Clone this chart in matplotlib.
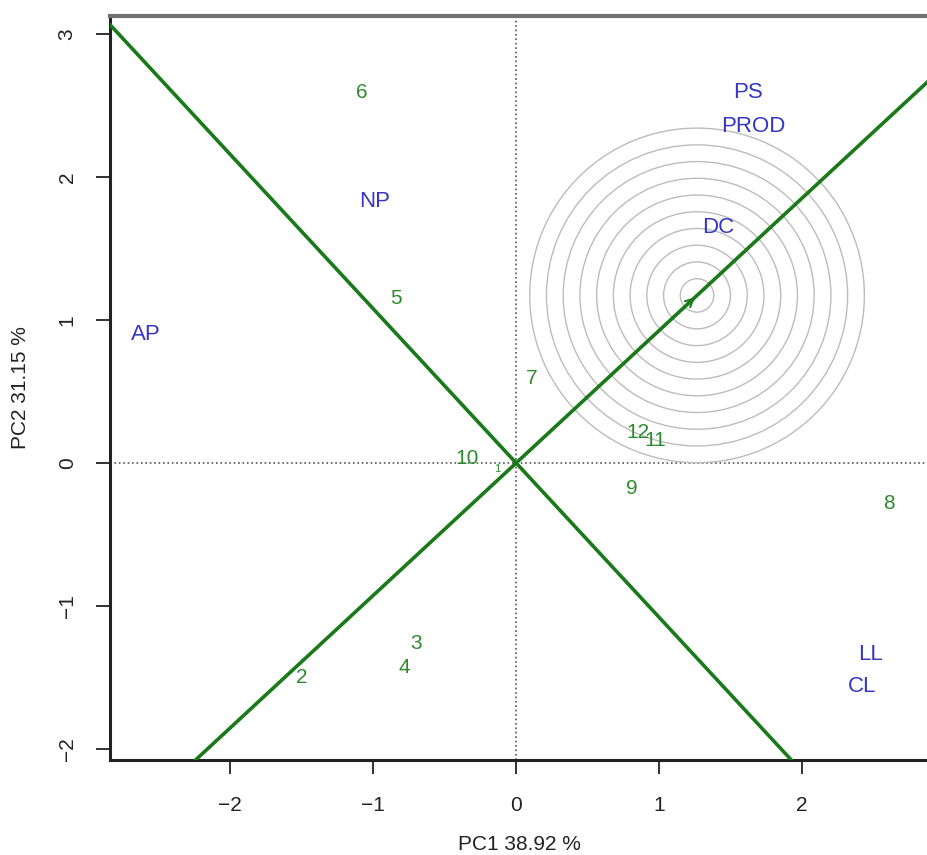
import matplotlib
matplotlib.use('Agg')
import matplotlib.pyplot as plt
from matplotlib.patches import Circle
import numpy as np

plt.rcParams['font.family'] = ['Liberation Sans', 'DejaVu Sans']

# explained variance of the two axes
pc1_var = 38.92
pc2_var = 31.15

# genotype scores
gen_names = ['1', '2', '3', '4', '5', '6', '7', '8', '9', '10', '11', '12']
gen_pc1 = [-0.13, -1.50, -0.70, -0.78, -0.84, -1.08, 0.11, 2.61, 0.81, -0.34, 0.97, 0.85]
gen_pc2 = [-0.04, -1.50, -1.26, -1.43, 1.15, 2.59, 0.59, -0.28, -0.18, 0.03, 0.16, 0.21]

# environment (trait) scores
env_names = ['AP', 'NP', 'PS', 'PROD', 'DC', 'LL', 'CL']
env_pc1 = [-2.59, -0.99, 1.62, 1.66, 1.41, 2.48, 2.42]
env_pc2 = [0.90, 1.83, 2.59, 2.35, 1.65, -1.34, -1.56]

# ideal genotype and concentric circles around it
ideal_pc1 = 1.265
ideal_pc2 = 1.172
circle_step = 0.117
n_circles = 10

green_txt = '#2e8b2e'
green_line = '#1a7a1a'
blue_txt = '#3636c0'

fig = plt.figure(figsize=(9.28, 8.55), dpi=100)
ax = fig.add_axes([110 / 928, 95 / 855, 818 / 928, 744 / 855])

ax.set_xlim(-2.84, 2.88)
ax.set_ylim(-2.077, 3.126)

# reference axes
ax.axhline(0, color='#555555', ls=':', lw=1.2, zorder=1)
ax.axvline(0, color='#555555', ls=':', lw=1.2, zorder=1)

# circles around the ideal point
for k in range(1, n_circles + 1):
    ax.add_patch(Circle((ideal_pc1, ideal_pc2), k * circle_step, fill=False,
                        ec='#bcbcbc', lw=1.0, zorder=2))

# average axis through ideal point and its perpendicular
slope = ideal_pc2 / ideal_pc1
ax.axline((0, 0), (ideal_pc1, ideal_pc2), color=green_line, lw=2.6, zorder=3)
ax.axline((0, 0), slope=-1 / slope, color=green_line, lw=2.6, zorder=3)
ax.annotate('', xy=(ideal_pc1, ideal_pc2), xytext=(0, 0),
            arrowprops=dict(arrowstyle='->', color=green_line, lw=1.5,
                            mutation_scale=14), zorder=4)

for name, x, y in zip(gen_names, gen_pc1, gen_pc2):
    size = 8 if name == '1' else 15
    ax.text(x, y, name, color=green_txt, fontsize=size, ha='center', va='center', zorder=5)

for name, x, y in zip(env_names, env_pc1, env_pc2):
    ax.text(x, y, name, color=blue_txt, fontsize=16, ha='center', va='center', zorder=5)

ax.set_xticks([-2, -1, 0, 1, 2])
ax.set_yticks([-2, -1, 0, 1, 2, 3])
ax.tick_params(axis='both', direction='out', length=10, width=1.3, labelsize=15,
               color='#222222', labelcolor='#222222')
ax.tick_params(axis='x', pad=16)
ax.tick_params(axis='y', pad=14)
for lab in ax.get_yticklabels():
    lab.set_rotation(90)
    lab.set_va('center')

ax.spines['right'].set_visible(False)
ax.spines['top'].set_color('#707070')
ax.spines['top'].set_linewidth(3)
ax.spines['left'].set_linewidth(2.2)
ax.spines['bottom'].set_linewidth(2.2)
ax.spines['left'].set_color('#222222')
ax.spines['bottom'].set_color('#222222')

ax.set_xlabel(f'PC1 {pc1_var:.2f} %', fontsize=15, color='#222222', labelpad=14)
ax.set_ylabel(f'PC2 {pc2_var:.2f} %', fontsize=15, color='#222222', labelpad=20)

fig.savefig('out.png', dpi=100)
